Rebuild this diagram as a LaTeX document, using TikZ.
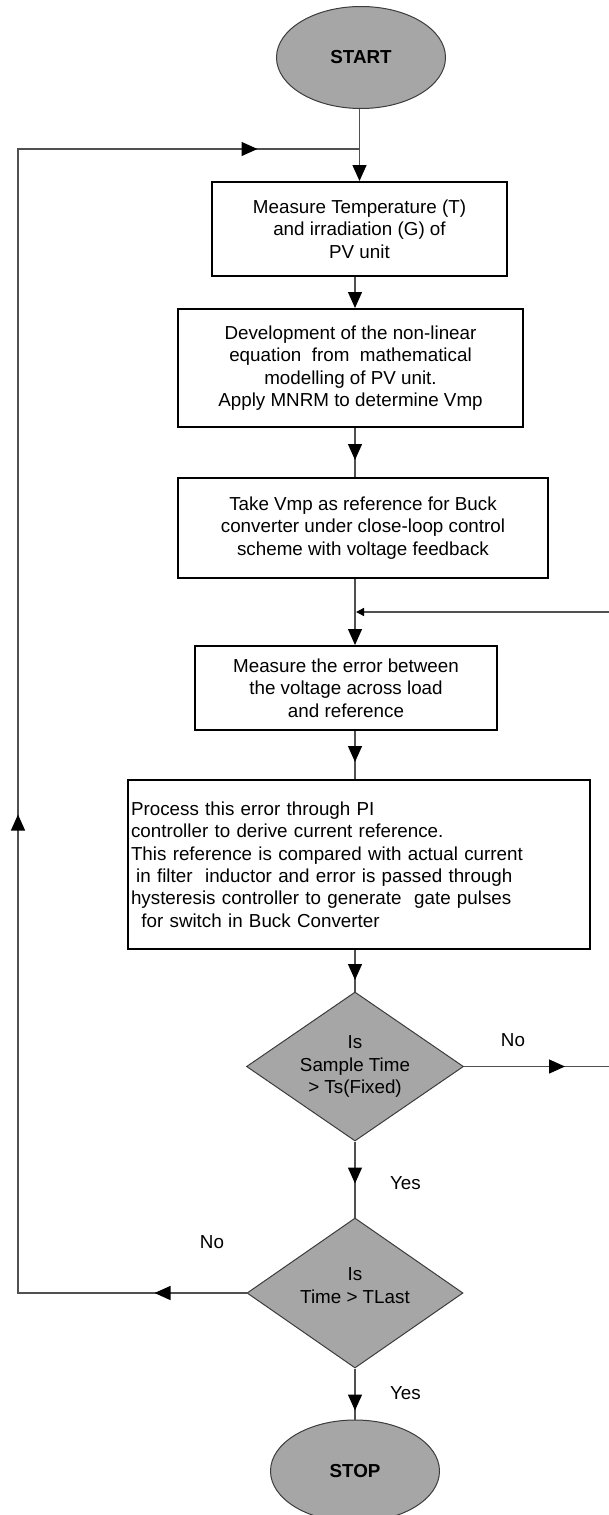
\documentclass[tikz,border=0pt]{standalone}
\usepackage{fontspec}
\setmainfont{Liberation Sans}
\usetikzlibrary{shapes.geometric,arrows.meta,decorations.markings}
\definecolor{shade}{RGB}{166,166,166}
\definecolor{linegray}{RGB}{80,80,80}
\definecolor{edgegray}{RGB}{60,60,60}
\begin{document}
\begin{tikzpicture}[x=1pt,y=-1pt,
  every node/.style={font=\fontsize{18.8pt}{22.4pt}\selectfont, text=black},
  BigTri/.tip={Triangle[length=16pt,width=14pt,color=black]},
  SmallTri/.tip={Triangle[length=8pt,width=8pt,color=black]},
  stepbox/.style={draw=black, line width=2pt, fill=white, align=center, inner sep=2pt},
  term/.style={ellipse, draw=edgegray, line width=1pt, fill=shade, minimum width=169pt, minimum height=102pt, inner sep=0pt},
  decide/.style={diamond, draw=edgegray, line width=1pt, fill=shade, align=center, inner sep=0pt, aspect=1.45},
  conn/.style={draw=linegray, line width=1.3pt},
  endtip/.style={-{BigTri}},
  midarrow/.style={postaction={decorate}, decoration={markings, mark=at position #1 with {\arrow{BigTri}}}},
  lbl/.style={inner sep=0pt}
]
\useasboundingbox (0,0) rectangle (608,1515);

% terminals
\node[term] (start) at (361,57.5) {\textbf{START}};
\node[term] (stop) at (355,1471) {\textbf{STOP}};

% process boxes
\node[stepbox, minimum width=295pt, minimum height=94pt] (box1) at (359.5,229)
  {Measure Temperature (T)\\and irradiation (G) of\\PV unit};
\node[stepbox, minimum width=345pt, minimum height=118pt] (box2) at (350.5,368)
  {Development of the non-linear\\equation\ \ from\ \ mathematical\\modelling of PV unit.\\Apply MNRM to determine Vmp};
\node[stepbox, minimum width=370pt, minimum height=100pt] (box3) at (363,528)
  {Take Vmp as reference for Buck\\converter under close-loop control\\scheme with voltage feedback};
\node[stepbox, minimum width=302pt, minimum height=84pt] (box4) at (346,688)
  {Measure the error between\\the voltage across load\\and reference};
\node[stepbox, align=left, inner xsep=3pt, text width=456pt, minimum height=169pt] (box5) at (359,864.5)
  {Process this error through PI\\
   controller to derive current reference.\\
   This reference is compared with actual current\\
   \hspace*{5.2pt}in filter\ \ inductor and error is passed through\\
   hysteresis controller to generate\ \ gate pulses\\
   \hspace*{10.4pt}for switch in Buck Converter};

% decisions
\node[decide, minimum width=217pt, minimum height=149pt] (dia1) at (355,1066.5)
  {Is\\Sample Time\\> Ts(Fixed)};
\node[decide, minimum width=216pt, minimum height=150pt] (dia2) at (355,1293) {};
\node[lbl, align=center] (dia2t) at (355,1285.5) {Is\\Time > TLast};

% labels
\node[lbl] (no1) at (513,1040) {No};
\node[lbl] (yes1) at (405.5,1183) {Yes};
\node[lbl] (no2) at (212,1242) {No};
\node[lbl] (yes2) at (405.5,1393) {Yes};

% helper coordinates
\coordinate (J0) at (359.5,149);
\coordinate (L1) at (18,1293);
\coordinate (L2) at (18,149);
\coordinate (R1) at (612,1066.5);
\coordinate (R2) at (612,612);
\coordinate (F) at (356,612);

% main flow
\draw[conn, endtip] (start.south -| box1.north) -- (box1.north);
\draw[conn, endtip] (box1.south -| dia1.north) -- (box2.north -| dia1.north);
\draw[conn, midarrow=32pt] (box2.south -| dia1.north) -- (box3.north -| dia1.north);
\draw[conn, endtip] (box3.south -| dia1.north) -- (box4.north -| dia1.north);
\draw[conn, midarrow=31pt] (box4.south -| dia1.north) -- (box5.north -| dia1.north);
\draw[conn, midarrow=30pt] (box5.south -| dia1.north) -- (dia1.north);
\draw[conn, midarrow=42pt] (dia1.south) -- (dia2.north);
\draw[conn, midarrow=42pt] (dia2.south) -- (stop.north);

% "No" of the first decision: back to the voltage loop
\draw[conn, -{SmallTri}, postaction={decorate},
  decoration={markings, mark=at position 101pt with {\arrow{BigTri}}}]
  (dia1.east) -- (R1) -- (R2) -- (F);

% "No" of the second decision: back to the start
\draw[conn, postaction={decorate},
  decoration={markings,
    mark=at position 92pt with {\arrow{BigTri}},
    mark=at position 707pt with {\arrow{BigTri}},
    mark=at position 1612pt with {\arrow{BigTri}}}]
  (dia2.west) -- (L1) -- (L2) -- (J0);
\end{tikzpicture}
\end{document}
